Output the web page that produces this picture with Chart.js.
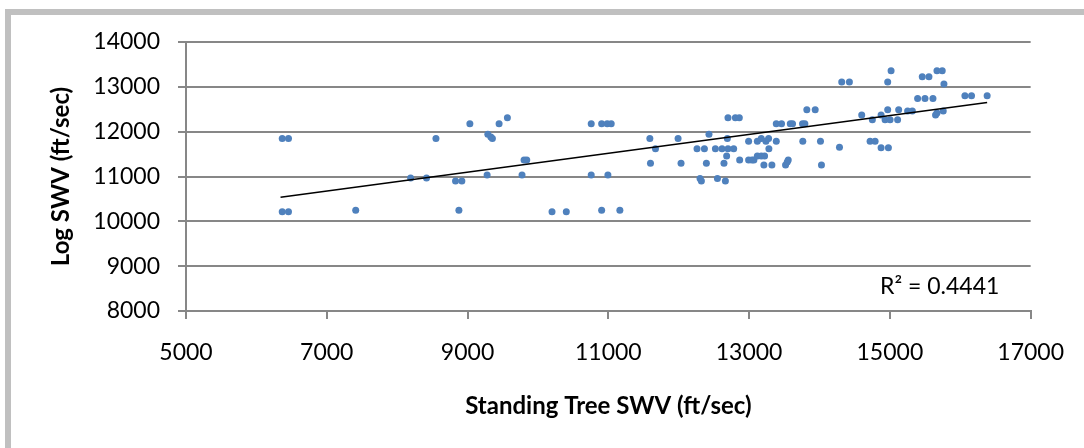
<!DOCTYPE html>
<html>
<head>
<meta charset="utf-8">
<title>Standing Tree SWV vs Log SWV</title>
<script src="https://cdn.jsdelivr.net/npm/chart.js@4/dist/chart.umd.min.js"></script>
<style>
  html, body { margin: 0; padding: 0; background: #ffffff; }
  #wrap { width: 1084px; height: 448px; }
</style>
</head>
<body>
<div id="wrap"><canvas id="swvChart" width="1084" height="448"></canvas></div>
<script>
// Standing tree SWV (x) and log SWV (y), ft/sec
const standingSWV = [
    6367, 6456, 6367, 6456, 7411,
    8191, 8417, 8551, 8829, 8919, 8877,
    9033, 9278, 9288, 9331, 9353, 9448, 9566,
    9803, 9841, 9774, 10200, 10403,
    10757, 10757, 10905, 10984, 11041, 10994, 10905, 11164,
    11590, 11670, 11599, 11991, 12033,
    12700, 12805, 12861, 13820, 13939,
    13386, 13461, 13585, 13617, 13759, 13792,
    12430, 12691, 12993, 13117, 13173, 13239, 13277, 13386, 13763, 14014, 14284,
    12260, 12365, 12521, 12615, 12700, 12781, 13281,
    12681, 12393, 12643, 12866, 12993, 13040, 13068,
    13117, 13173, 13220, 13210, 13324, 13518, 13542, 13556, 14028,
    12303, 12322, 12550, 12663,
    15394, 15499, 15612, 16066, 16160, 16382,
    14600, 14751, 14875, 14969, 14932, 15003, 15110, 15125, 15252, 15319, 15649, 15669, 15758,
    14719, 14790, 14875, 14979,
    14316, 14425, 14969, 15017, 15460, 15555, 15669, 15744, 15768
];
const logSWV = [
    11850, 11850, 10215, 10215, 10245,
    10967, 10967, 11850, 10900, 10900, 10245,
    12178, 11034, 11940, 11882, 11850, 12178, 12312,
    11369, 11369, 11034, 10215, 10215,
    12178, 11034, 12178, 12178, 12178, 11034, 10245, 10245,
    11850, 11620, 11293, 11850, 11293,
    12312, 12312, 12312, 12490, 12490,
    12178, 12178, 12178, 12178, 12178, 12178,
    11940, 11850, 11784, 11784, 11850, 11784, 11850, 11784, 11784, 11784, 11650,
    11620, 11620, 11620, 11620, 11620, 11620, 11620,
    11458, 11293, 11293, 11369, 11369, 11369, 11369,
    11458, 11458, 11458, 11257, 11257, 11257, 11324, 11369, 11257,
    10958, 10900, 10958, 10900,
    12742, 12742, 12742, 12802, 12802, 12802,
    12372, 12267, 12372, 12490, 12267, 12267, 12267, 12490, 12461, 12461, 12372, 12417, 12461,
    11784, 11784, 11643, 11643,
    13108, 13108, 13108, 13360, 13226, 13226, 13360, 13360, 13063
];

// linear trendline end points, as drawn in the original
const trendX = [6343, 16382];
const trendY = [10535, 12653];
const rSquaredLabel = "R² = 0.4441";

// axis ranges
const xTicks = [5000, 17000, 2000];   // min, max, step
const yTicks = [8000, 14000, 1000];

const gridGray = "#878787";

// white background + the grey frame round the chart
const framePlugin = {
    id: "frame",
    beforeDraw(chart) {
        const ctx = chart.ctx;
        ctx.save();
        ctx.fillStyle = "#ffffff";
        ctx.fillRect(0, 0, chart.width, chart.height);
        ctx.fillStyle = "#c0c0c0";
        ctx.fillRect(5, 9, chart.width - 5, 6);
        ctx.fillRect(5, 9, 6, chart.height - 9);
        ctx.restore();
    }
};

// R² text in the lower right of the plot
const rSquaredPlugin = {
    id: "rSquared",
    afterDraw(chart) {
        const ctx = chart.ctx;
        const area = chart.chartArea;
        ctx.save();
        ctx.font = "23px Lato";
        ctx.fillStyle = "#000000";
        ctx.textAlign = "center";
        ctx.textBaseline = "middle";
        ctx.fillText(rSquaredLabel, area.right - 91, area.bottom - 24);
        ctx.restore();
    }
};

Chart.defaults.font.family = "Lato";
Chart.defaults.color = "#000000";

const points = standingSWV.map((x, i) => ({ x: x, y: logSWV[i] }));
const trendPoints = trendX.map((x, i) => ({ x: x, y: trendY[i] }));

new Chart(document.getElementById("swvChart"), {
    type: "scatter",
    data: {
        datasets: [
            {
                label: "Log SWV",
                data: points,
                backgroundColor: "#4f81bd",
                borderColor: "#4f81bd",
                borderWidth: 0,
                pointRadius: 3.5,
                order: 2
            },
            {
                label: "Linear trend",
                type: "line",
                data: trendPoints,
                borderColor: "#000000",
                borderWidth: 1.5,
                pointRadius: 0,
                fill: false,
                order: 1
            }
        ]
    },
    options: {
        responsive: false,
        animation: false,
        layout: { padding: { left: 0, right: 52, top: 42, bottom: 0 } },
        plugins: {
            legend: { display: false },
            tooltip: { enabled: false }
        },
        scales: {
            x: {
                type: "linear",
                min: xTicks[0],
                max: xTicks[1],
                ticks: {
                    stepSize: xTicks[2],
                    padding: 20,
                    font: { size: 23 },
                    callback: (v) => String(v)
                },
                grid: {
                    drawOnChartArea: false,
                    drawTicks: true,
                    tickLength: 8,
                    color: gridGray,
                    lineWidth: 2
                },
                border: { color: gridGray, width: 2 },
                title: {
                    display: true,
                    text: "Standing Tree SWV (ft/sec)",
                    font: { size: 24, weight: "bold" },
                    padding: { top: 0, bottom: 27 }
                },
                afterFit(scale) { scale.height = 448 - 311; }
            },
            y: {
                type: "linear",
                min: yTicks[0],
                max: yTicks[1],
                ticks: {
                    stepSize: yTicks[2],
                    padding: 18,
                    font: { size: 23 },
                    callback: (v) => String(v)
                },
                grid: {
                    drawTicks: true,
                    tickLength: 8,
                    color: gridGray,
                    lineWidth: 2
                },
                border: { color: gridGray, width: 2 },
                title: {
                    display: true,
                    text: "Log SWV (ft/sec)",
                    font: { size: 24, weight: "bold" },
                    padding: { top: 47, bottom: 0 }
                },
                afterFit(scale) { scale.width = 186; }
            }
        }
    },
    plugins: [framePlugin, rSquaredPlugin]
});
</script>
</body>
</html>
